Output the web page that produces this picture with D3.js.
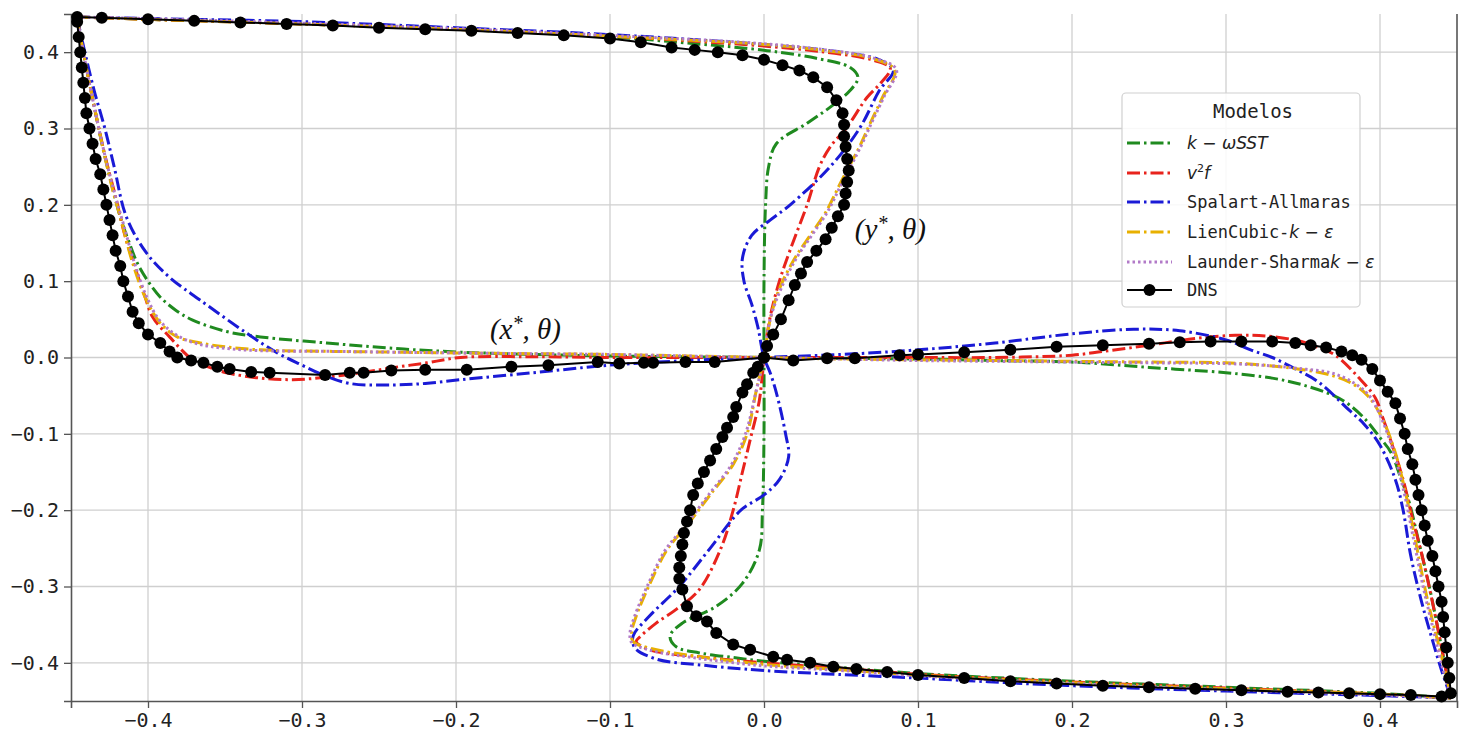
<!DOCTYPE html>
<html>
<head>
<meta charset="utf-8">
<script src="https://cdn.jsdelivr.net/npm/d3@7"></script>
<style>
  html, body { margin: 0; padding: 0; background: #fff; }
  svg { display: block; }
</style>
</head>
<body>
<svg id="chart" width="1466" height="734"></svg>
<script>
// Temperature profiles in the square cavity: horizontal centreline (x*, θ)
// and vertical centreline plotted as (θ, y*), for each turbulence model and DNS.

const xTicks = [-0.4, -0.3, -0.2, -0.1, 0.0, 0.1, 0.2, 0.3, 0.4];
const yTicks = [-0.4, -0.3, -0.2, -0.1, 0.0, 0.1, 0.2, 0.3, 0.4];

const seriesNames = ["k-ωSST", "v2f", "Spalart-Allmaras", "LienCubic-k-ε", "Launder-Sharma k-ε", "DNS"];

// ---- k-ω SST ----
const sstHoriz = [[-0.446,0.445],[-0.441,0.39],[-0.434,0.32],[-0.429,0.272],[-0.418,0.184],[-0.413,0.155],[-0.407,0.124],[-0.4,0.1],[-0.392,0.079],[-0.382,0.062],[-0.371,0.049],[-0.349,0.034],[-0.327,0.027],[-0.284,0.019],[-0.241,0.012],[-0.197,0.007],[-0.15,0.004],[-0.1,0.002],[-0.05,0.001],[0,0],[0.05,-0.001],[0.1,-0.002],[0.15,-0.004],[0.2,-0.006],[0.25,-0.013],[0.3,-0.02],[0.33,-0.027],[0.35,-0.036],[0.37,-0.05],[0.38,-0.062],[0.39,-0.08],[0.4,-0.105],[0.407,-0.124],[0.413,-0.155],[0.419,-0.19],[0.425,-0.24],[0.432,-0.3],[0.44,-0.38],[0.446,-0.445]];
const sstVert = [[-0.446,0.446],[-0.4,0.443],[-0.3,0.437],[-0.2,0.43],[-0.1,0.42],[-0.05,0.412],[0.002,0.402],[0.034,0.392],[0.056,0.38],[0.061,0.367],[0.056,0.35],[0.043,0.328],[0.028,0.307],[0.008,0.28],[0.003,0.25],[0.001,0.2],[0.0,0.1],[0,0],[0,-0.1],[-0.001,-0.2],[-0.003,-0.252],[-0.014,-0.296],[-0.031,-0.326],[-0.053,-0.348],[-0.061,-0.365],[-0.057,-0.379],[-0.042,-0.387],[-0.02,-0.393],[0,-0.398],[0.05,-0.406],[0.1,-0.414],[0.2,-0.424],[0.3,-0.432],[0.4,-0.44],[0.446,-0.446]];

// ---- v2-f ----
const v2fHoriz = [[-0.446,0.445],[-0.44,0.38],[-0.434,0.32],[-0.428,0.265],[-0.421,0.21],[-0.415,0.16],[-0.408,0.115],[-0.402,0.08],[-0.397,0.053],[-0.386,0.027],[-0.371,-0.003],[-0.36,-0.013],[-0.349,-0.02],[-0.327,-0.027],[-0.306,-0.029],[-0.285,-0.026],[-0.262,-0.02],[-0.24,-0.013],[-0.219,-0.007],[-0.197,0.0],[-0.15,0.001],[-0.1,0.0],[-0.05,0.0],[0,0],[0.05,0.0],[0.1,0.0],[0.15,0.0],[0.2,0.003],[0.22,0.008],[0.25,0.016],[0.28,0.025],[0.306,0.029],[0.327,0.028],[0.349,0.021],[0.36,0.013],[0.371,0.003],[0.386,-0.026],[0.397,-0.053],[0.402,-0.08],[0.408,-0.115],[0.415,-0.16],[0.421,-0.21],[0.428,-0.265],[0.434,-0.32],[0.44,-0.38],[0.446,-0.445]];
const v2fVert = [[-0.446,0.446],[-0.4,0.443],[-0.3,0.437],[-0.2,0.43],[-0.1,0.421],[-0.05,0.415],[0,0.408],[0.04,0.4],[0.07,0.39],[0.082,0.379],[0.076,0.36],[0.067,0.341],[0.054,0.302],[0.043,0.276],[0.036,0.25],[0.028,0.2],[0.017,0.141],[0.01,0.1],[0.004,0.053],[0,0],[-0.003,-0.056],[-0.009,-0.108],[-0.014,-0.15],[-0.02,-0.2],[-0.028,-0.25],[-0.042,-0.304],[-0.057,-0.33],[-0.07,-0.348],[-0.08,-0.365],[-0.083,-0.372],[-0.074,-0.383],[-0.042,-0.392],[0,-0.4],[0.05,-0.407],[0.1,-0.415],[0.2,-0.425],[0.3,-0.433],[0.4,-0.441],[0.446,-0.446]];

// ---- Spalart-Allmaras ----
const saHoriz = [[-0.446,0.445],[-0.441,0.4],[-0.435,0.35],[-0.428,0.3],[-0.422,0.25],[-0.414,0.184],[-0.401,0.137],[-0.386,0.105],[-0.366,0.075],[-0.336,0.032],[-0.316,0.006],[-0.3,-0.01],[-0.286,-0.023],[-0.269,-0.034],[-0.241,-0.036],[-0.22,-0.034],[-0.197,-0.029],[-0.15,-0.02],[-0.1,-0.01],[-0.05,-0.004],[0,0],[0.05,0.004],[0.1,0.01],[0.15,0.019],[0.2,0.031],[0.24,0.037],[0.27,0.035],[0.3,0.023],[0.316,0.01],[0.33,0.0],[0.345,-0.015],[0.36,-0.032],[0.38,-0.069],[0.39,-0.088],[0.4,-0.115],[0.41,-0.16],[0.415,-0.2],[0.42,-0.26],[0.427,-0.32],[0.434,-0.37],[0.44,-0.41],[0.446,-0.445]];
const saVert = [[-0.446,0.446],[-0.4,0.444],[-0.3,0.44],[-0.2,0.432],[-0.1,0.423],[0,0.41],[0.05,0.4],[0.075,0.39],[0.084,0.376],[0.075,0.35],[0.062,0.3],[0.043,0.25],[0.017,0.2],[0.004,0.18],[-0.008,0.16],[-0.014,0.13],[-0.013,0.1],[-0.008,0.07],[-0.004,0.04],[0,0],[0.004,-0.02],[0.008,-0.046],[0.014,-0.1],[0.016,-0.13],[0.01,-0.16],[0.0,-0.18],[-0.015,-0.2],[-0.035,-0.25],[-0.055,-0.3],[-0.075,-0.34],[-0.085,-0.365],[-0.084,-0.38],[-0.07,-0.395],[-0.04,-0.403],[0,-0.41],[0.1,-0.42],[0.2,-0.43],[0.3,-0.437],[0.4,-0.443],[0.446,-0.446]];

// ---- Lien cubic k-ε ----
const lienHoriz = [[-0.446,0.445],[-0.442,0.4],[-0.435,0.33],[-0.429,0.272],[-0.423,0.22],[-0.418,0.184],[-0.41,0.124],[-0.401,0.075],[-0.392,0.045],[-0.381,0.027],[-0.366,0.019],[-0.35,0.014],[-0.327,0.01],[-0.28,0.008],[-0.241,0.007],[-0.2,0.006],[-0.15,0.005],[-0.1,0.004],[-0.05,0.002],[0,0],[0.05,-0.002],[0.1,-0.003],[0.15,-0.004],[0.2,-0.005],[0.25,-0.006],[0.3,-0.007],[0.33,-0.011],[0.35,-0.016],[0.366,-0.022],[0.381,-0.033],[0.392,-0.05],[0.401,-0.078],[0.41,-0.125],[0.418,-0.19],[0.424,-0.25],[0.43,-0.31],[0.436,-0.36],[0.441,-0.4],[0.446,-0.445]];
const lienVert = [[-0.446,0.446],[-0.4,0.443],[-0.3,0.437],[-0.2,0.43],[-0.1,0.421],[0,0.41],[0.04,0.402],[0.07,0.392],[0.085,0.376],[0.077,0.341],[0.069,0.307],[0.062,0.276],[0.05,0.23],[0.04,0.19],[0.03,0.16],[0.02,0.13],[0.01,0.09],[0.004,0.05],[0,0],[-0.005,-0.043],[-0.011,-0.1],[-0.02,-0.14],[-0.035,-0.18],[-0.05,-0.22],[-0.063,-0.252],[-0.074,-0.296],[-0.083,-0.339],[-0.086,-0.361],[-0.085,-0.372],[-0.074,-0.381],[-0.042,-0.392],[0,-0.402],[0.05,-0.409],[0.1,-0.416],[0.2,-0.426],[0.3,-0.434],[0.4,-0.441],[0.446,-0.446]];

// ---- Launder-Sharma k-ε ----
const lsHoriz = [[-0.446,0.445],[-0.442,0.4],[-0.434,0.32],[-0.428,0.265],[-0.421,0.21],[-0.416,0.175],[-0.409,0.125],[-0.401,0.08],[-0.393,0.05],[-0.382,0.03],[-0.368,0.018],[-0.35,0.012],[-0.327,0.009],[-0.28,0.008],[-0.24,0.007],[-0.2,0.006],[-0.15,0.005],[-0.1,0.004],[-0.05,0.002],[0,0],[0.05,-0.002],[0.1,-0.004],[0.15,-0.005],[0.2,-0.006],[0.25,-0.007],[0.3,-0.008],[0.33,-0.011],[0.35,-0.015],[0.368,-0.02],[0.382,-0.032],[0.393,-0.05],[0.401,-0.08],[0.409,-0.125],[0.416,-0.18],[0.422,-0.24],[0.428,-0.3],[0.435,-0.36],[0.441,-0.41],[0.446,-0.445]];
const lsVert = [[-0.446,0.446],[-0.4,0.444],[-0.3,0.438],[-0.2,0.431],[-0.1,0.422],[0,0.411],[0.04,0.403],[0.07,0.393],[0.086,0.377],[0.078,0.342],[0.07,0.308],[0.063,0.277],[0.051,0.23],[0.041,0.19],[0.031,0.16],[0.021,0.13],[0.011,0.09],[0.004,0.05],[0,0],[-0.005,-0.043],[-0.012,-0.1],[-0.021,-0.14],[-0.036,-0.18],[-0.051,-0.22],[-0.064,-0.252],[-0.075,-0.296],[-0.084,-0.339],[-0.087,-0.361],[-0.086,-0.373],[-0.075,-0.383],[-0.043,-0.394],[0,-0.404],[0.05,-0.41],[0.1,-0.417],[0.2,-0.427],[0.3,-0.435],[0.4,-0.442],[0.446,-0.446]];

// ---- DNS reference ----
const dnsHoriz = [[-0.446,0.44],[-0.445,0.42],[-0.444,0.4],[-0.443,0.38],[-0.442,0.36],[-0.441,0.34],[-0.44,0.32],[-0.438,0.3],[-0.436,0.28],[-0.434,0.26],[-0.431,0.24],[-0.429,0.22],[-0.427,0.2],[-0.425,0.18],[-0.423,0.16],[-0.421,0.14],[-0.418,0.12],[-0.416,0.1],[-0.413,0.08],[-0.41,0.06],[-0.406,0.045],[-0.4,0.03],[-0.392,0.019],[-0.386,0.008],[-0.381,0.0],[-0.372,-0.004],[-0.364,-0.007],[-0.355,-0.012],[-0.347,-0.015],[-0.333,-0.019],[-0.321,-0.02],[-0.285,-0.023],[-0.269,-0.02],[-0.26,-0.02],[-0.242,-0.017],[-0.22,-0.016],[-0.193,-0.016],[-0.164,-0.012],[-0.14,-0.01],[-0.108,-0.006],[-0.094,-0.008],[-0.078,-0.007],[-0.072,-0.007],[-0.051,-0.006],[-0.032,-0.006],[0,0],[0.019,-0.004],[0.041,-0.001],[0.059,-0.001],[0.088,0.003],[0.1,0.004],[0.13,0.007],[0.16,0.01],[0.19,0.014],[0.22,0.016],[0.25,0.018],[0.27,0.02],[0.29,0.021],[0.31,0.021],[0.33,0.021],[0.345,0.019],[0.355,0.016],[0.365,0.013],[0.375,0.008],[0.382,0.003],[0.388,-0.003],[0.395,-0.015],[0.4,-0.03],[0.405,-0.045],[0.41,-0.06],[0.413,-0.08],[0.416,-0.1],[0.418,-0.12],[0.421,-0.14],[0.423,-0.16],[0.425,-0.18],[0.427,-0.2],[0.429,-0.22],[0.431,-0.24],[0.434,-0.26],[0.436,-0.28],[0.438,-0.3],[0.44,-0.32],[0.441,-0.34],[0.442,-0.36],[0.443,-0.38],[0.444,-0.4],[0.445,-0.42],[0.446,-0.44]];
const dnsVert = [[-0.446,0.446],[-0.43,0.445],[-0.4,0.443],[-0.37,0.441],[-0.34,0.439],[-0.31,0.437],[-0.28,0.435],[-0.25,0.432],[-0.22,0.43],[-0.19,0.428],[-0.16,0.425],[-0.13,0.422],[-0.1,0.418],[-0.08,0.413],[-0.06,0.406],[-0.045,0.403],[-0.03,0.4],[-0.014,0.396],[0,0.39],[0.012,0.383],[0.023,0.376],[0.032,0.367],[0.041,0.354],[0.047,0.337],[0.051,0.32],[0.052,0.305],[0.052,0.29],[0.053,0.276],[0.054,0.26],[0.055,0.245],[0.054,0.23],[0.053,0.215],[0.052,0.2],[0.048,0.185],[0.044,0.17],[0.04,0.155],[0.034,0.14],[0.028,0.125],[0.024,0.11],[0.02,0.095],[0.016,0.075],[0.011,0.05],[0.006,0.03],[0.002,0.015],[0,0],[-0.004,-0.012],[-0.007,-0.02],[-0.011,-0.035],[-0.014,-0.046],[-0.018,-0.065],[-0.02,-0.078],[-0.024,-0.092],[-0.027,-0.104],[-0.031,-0.12],[-0.035,-0.135],[-0.039,-0.15],[-0.043,-0.165],[-0.046,-0.18],[-0.048,-0.2],[-0.05,-0.215],[-0.052,-0.23],[-0.053,-0.245],[-0.054,-0.26],[-0.055,-0.275],[-0.055,-0.29],[-0.053,-0.304],[-0.05,-0.326],[-0.044,-0.339],[-0.037,-0.346],[-0.031,-0.361],[-0.02,-0.376],[-0.009,-0.383],[0.006,-0.392],[0.015,-0.396],[0.03,-0.4],[0.045,-0.405],[0.06,-0.408],[0.08,-0.412],[0.1,-0.416],[0.13,-0.42],[0.16,-0.424],[0.19,-0.427],[0.22,-0.43],[0.25,-0.432],[0.28,-0.434],[0.31,-0.436],[0.34,-0.438],[0.36,-0.439],[0.38,-0.44],[0.4,-0.441],[0.42,-0.442],[0.44,-0.444]];

const modelColors = ["#1f8a1f", "#e8231c", "#1a1ad6", "#e8b000", "#b27ac8"];
const modelDashes = ["13,4,2.5,4", "13,4,2.5,4", "13,4,2.5,4", "13,4,2.5,4", "2.5,3"];

const models = [
  { horiz: sstHoriz, vert: sstVert },
  { horiz: v2fHoriz, vert: v2fVert },
  { horiz: saHoriz, vert: saVert },
  { horiz: lienHoriz, vert: lienVert },
  { horiz: lsHoriz, vert: lsVert }
];

const plot = { left: 71, right: 1457, top: 14, bottom: 701 };

const svg = d3.select("#chart");
const x = d3.scaleLinear().domain([-0.45, 0.45]).range([plot.left, plot.right]);
const y = d3.scaleLinear().domain([-0.45, 0.45]).range([plot.bottom, plot.top]);

const fmt = v => (v < 0 ? "\u2212" : "") + Math.abs(v).toFixed(1);
const mono = "'DejaVu Sans Mono', monospace";

// grid
const grid = svg.append("g");
grid.selectAll("line.gx").data(xTicks).enter().append("line")
  .attr("x1", d => x(d)).attr("x2", d => x(d))
  .attr("y1", plot.top).attr("y2", plot.bottom)
  .attr("stroke", "#cfcfcf").attr("stroke-width", 1.3);
grid.selectAll("line.gy").data(yTicks).enter().append("line")
  .attr("y1", d => y(d)).attr("y2", d => y(d))
  .attr("x1", plot.left).attr("x2", plot.right)
  .attr("stroke", "#cfcfcf").attr("stroke-width", 1.3);

// axes
const xAxis = svg.append("g").attr("transform", `translate(0,${plot.bottom})`)
  .call(d3.axisBottom(x).tickValues(xTicks).tickFormat(fmt).tickSize(7).tickPadding(5));
const yAxis = svg.append("g").attr("transform", `translate(${plot.left},0)`)
  .call(d3.axisLeft(y).tickValues(yTicks).tickFormat(fmt).tickSize(7).tickPadding(5));
[xAxis, yAxis].forEach(g => {
  g.select(".domain").attr("stroke", "#555").attr("stroke-width", 1.6);
  g.selectAll(".tick line").attr("stroke", "#555").attr("stroke-width", 1.3);
  g.selectAll(".tick text").attr("font-family", mono).attr("font-size", 20).attr("fill", "#222");
});
svg.append("line").attr("x1", plot.right).attr("x2", plot.right)
  .attr("y1", plot.top).attr("y2", plot.bottom)
  .attr("stroke", "#555").attr("stroke-width", 1.6);

// curves
const smooth = d3.line().x(d => x(d[0])).y(d => y(d[1])).curve(d3.curveCatmullRom.alpha(0.5));
const straight = d3.line().x(d => x(d[0])).y(d => y(d[1]));

const curves = svg.append("g");
models.forEach((m, i) => {
  [m.horiz, m.vert].forEach(data => {
    curves.append("path").datum(data)
      .attr("d", smooth)
      .attr("fill", "none")
      .attr("stroke", modelColors[i])
      .attr("stroke-width", 3)
      .attr("stroke-dasharray", modelDashes[i]);
  });
});

[dnsHoriz, dnsVert].forEach(data => {
  curves.append("path").datum(data)
    .attr("d", straight)
    .attr("fill", "none").attr("stroke", "#000").attr("stroke-width", 2);
  curves.selectAll(null).data(data).enter().append("circle")
    .attr("cx", d => x(d[0])).attr("cy", d => y(d[1])).attr("r", 6)
    .attr("fill", "#000");
});

// annotations
const serif = "'Liberation Serif', 'DejaVu Serif', serif";
function annot(px, py, letter) {
  const t = svg.append("text").attr("x", px).attr("y", py)
    .attr("font-family", serif).attr("font-style", "italic").attr("font-size", 29).attr("fill", "#111");
  t.append("tspan").text("(" + letter);
  t.append("tspan").attr("dy", -9).attr("font-size", 20).text("*");
  t.append("tspan").attr("dy", 9).text(", \u03b8)");
}
annot(x(-0.178), y(0.024), "x");
annot(x(0.059), y(0.155), "y");

// legend
const lg = svg.append("g");
const lgX = 1122, lgY = 93, lgW = 238, lgH = 214;
lg.append("rect").attr("x", lgX).attr("y", lgY).attr("width", lgW).attr("height", lgH)
  .attr("rx", 4).attr("fill", "#fff").attr("fill-opacity", 0.85)
  .attr("stroke", "#d0d0d0").attr("stroke-width", 1.2);
lg.append("text").attr("x", lgX + lgW / 2 + 12).attr("y", lgY + 25)
  .attr("text-anchor", "middle").attr("font-family", mono).attr("font-size", 19)
  .attr("fill", "#222").text("Modelos");

const sans = "'DejaVu Sans', sans-serif";
const legendLabels = [
  [["k", "it"], [" \u2212 ", "up"], ["\u03c9SST", "it"]],
  [["v", "it"], ["2", "sup"], ["f", "it"]],
  [["Spalart-Allmaras", "mono"]],
  [["LienCubic-", "mono"], ["k", "it"], [" \u2212 ", "up"], ["\u03b5", "it"]],
  [["Launder-Sharma", "mono"], ["k", "it"], [" \u2212 ", "up"], ["\u03b5", "it"]],
  [["DNS", "mono"]]
];
const rowY = [143, 173, 202, 232, 262, 290];

seriesNames.forEach((name, i) => {
  const cy = rowY[i];
  if (i < 5) {
    lg.append("line").attr("x1", 1127).attr("x2", 1172).attr("y1", cy).attr("y2", cy)
      .attr("stroke", modelColors[i]).attr("stroke-width", 3)
      .attr("stroke-dasharray", modelDashes[i]);
  } else {
    lg.append("line").attr("x1", 1127).attr("x2", 1172).attr("y1", cy).attr("y2", cy)
      .attr("stroke", "#000").attr("stroke-width", 2);
    lg.append("circle").attr("cx", 1149.5).attr("cy", cy).attr("r", 6).attr("fill", "#000");
  }
  const t = lg.append("text").attr("x", 1187).attr("y", cy + 6)
    .attr("font-size", 17).attr("fill", "#222");
  legendLabels[i].forEach(([s, kind]) => {
    const sp = t.append("tspan").text(s);
    if (kind === "mono") sp.attr("font-family", mono);
    else if (kind === "it") sp.attr("font-family", sans).attr("font-style", "italic");
    else if (kind === "up") sp.attr("font-family", sans);
    else if (kind === "sup") sp.attr("font-family", sans).attr("font-size", 11).attr("dy", -7);
    if (kind !== "sup" && sp.node().previousSibling && sp.node().previousSibling.getAttribute("dy") === "-7") {
      sp.attr("dy", 7);
    }
  });
});
</script>
</body>
</html>
